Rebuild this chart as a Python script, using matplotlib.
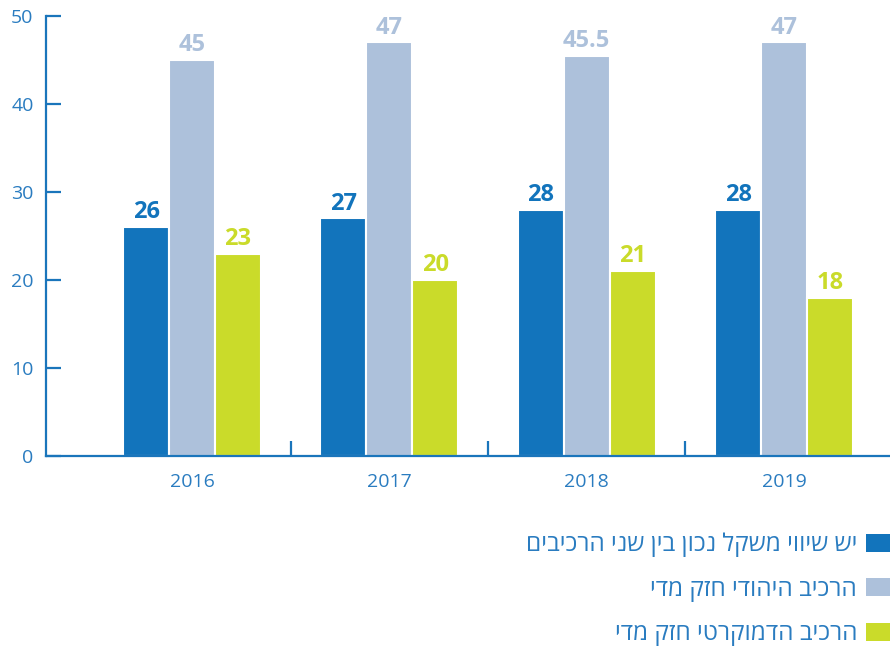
import matplotlib
matplotlib.use("Agg")
import matplotlib.pyplot as plt
import numpy as np

plt.rcParams["font.family"] = ["Open Sans", "DejaVu Sans"]

# ─── data ────────────────────────────────────────────────────────────────────
years = ["2016", "2017", "2018", "2019"]
balanced = [26, 27, 28, 28]
jewish_strong = [45, 47, 45.5, 47]
democratic_strong = [23, 20, 21, 18]

labels_he = [
    "יש שיווי משקל נכון בין שני הרכיבים",
    "הרכיב היהודי חזק מדי",
    "הרכיב הדמוקרטי חזק מדי",
]
colors = ["#1274bc", "#adc1db", "#cadb2a"]
axis_blue = "#1a75bb"
text_blue = "#2a7cc0"

# ─── figure ──────────────────────────────────────────────────────────────────
fig = plt.figure(figsize=(8.9, 6.49), dpi=100)
ax = fig.add_axes([46 / 890, 1 - 456 / 649, 1 - 46 / 890, (456 - 16) / 649])

x = np.arange(len(years))
w = 0.233
series = [balanced, jewish_strong, democratic_strong]
handles = []
for i, (vals, col) in enumerate(zip(series, colors)):
    bars = ax.bar(x + (i - 1) * w, vals, width=w, color=col,
                  edgecolor="white", linewidth=1.5, label=labels_he[i][::-1])
    handles.append(bars)
    ax.bar_label(bars, labels=[f"{v:g}" for v in vals], padding=2,
                 color=col, fontweight="bold", fontsize=17)

ax.set_xlim(-0.74, 3.537)
ax.set_ylim(0, 50)
ax.set_yticks(range(0, 51, 10))
ax.set_xticks(x)
ax.set_xticklabels(years)
ax.set_xticks(x[:-1] + 0.5, minor=True)

for s in ("top", "right"):
    ax.spines[s].set_visible(False)
for s in ("left", "bottom"):
    ax.spines[s].set_color(axis_blue)
    ax.spines[s].set_linewidth(1.6)

ax.tick_params(axis="y", direction="in", length=11, width=1.6,
               color=axis_blue, labelcolor=text_blue, labelsize=14, pad=9)
ax.tick_params(axis="x", which="major", length=0, labelcolor=text_blue,
               labelsize=14, pad=12)
ax.tick_params(axis="x", which="minor", direction="in", length=11,
               width=1.6, color=axis_blue)

leg = fig.legend(handles=handles, loc="lower right",
                 bbox_to_anchor=(1.0, 0.004),
                 frameon=False, markerfirst=False, fontsize=17.5,
                 labelcolor=text_blue, handlelength=1.0, handleheight=0.75,
                 handletextpad=0.35, labelspacing=0.85, borderpad=0.0,
                 borderaxespad=0.0)
for h in leg.legend_handles:
    h.set_edgecolor("none")

fig.savefig("out.png", dpi=100, facecolor="white")
